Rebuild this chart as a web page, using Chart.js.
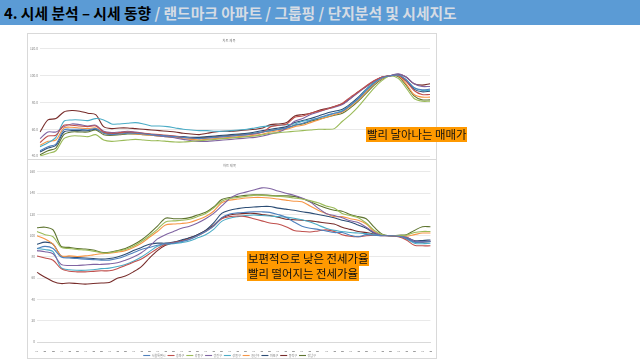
<!DOCTYPE html>
<html><head><meta charset="utf-8">
<script src="https://cdn.jsdelivr.net/npm/chart.js@4.4.1/dist/chart.umd.min.js"></script>
<style>
html,body{margin:0;padding:0;background:#fff;width:640px;height:360px;overflow:hidden;font-family:"Noto Sans CJK KR","Noto Sans",sans-serif;}
#bar{position:absolute;left:0;top:0;width:640px;height:25px;background:#5b9bd5;}
#head{position:absolute;left:4px;top:0px;font-size:15px;font-weight:bold;white-space:nowrap;line-height:26px;transform:scaleX(0.985);transform-origin:left center;}
.dark{color:#000}.light{color:#d6dce4}
.box{position:absolute;border:1px solid #d9d9d9;background:#fff;}
.note{position:absolute;background:#ff9900;color:#111;font-size:11.4px;line-height:15px;white-space:nowrap;padding:0 1px;}
canvas{display:block}
</style></head>
<body>
<div id="bar"></div>
<div id="head"><span class="dark">4. 시세 분석 – 시세 동향</span><span class="light"> / 랜드마크 아파트 / 그룹핑 / 단지분석 및 시세지도</span></div>
<div class="box" style="left:27px;top:33px;width:408px;height:126px"><canvas id="c1" width="408" height="126" style="width:408px;height:126px"></canvas></div>
<div class="box" style="left:27px;top:159px;width:408px;height:198px"><canvas id="c2" width="408" height="198" style="width:408px;height:198px"></canvas></div>
<div class="note" style="left:366px;top:127px">빨리 달아나는 매매가</div>
<div class="note" style="left:247px;top:251px">보편적으로 낮은 전세가율</div>
<div class="note" style="left:247px;top:266px">빨리 떨어지는 전세가율</div>
<script>
// categories (x axis)
const dates = ["07.01","07.05","07.09","08.01","08.05","08.09","09.01","09.05","09.09","10.01",
"10.05","10.09","11.01","11.05","11.09","12.01","12.05","12.09","13.01","13.05",
"13.09","14.01","14.05","14.09","15.01","15.05","15.09","16.01","16.05","16.09",
"17.01","17.05","17.09","18.01","18.05","18.09","19.01","19.05","19.09","20.01",
"20.05","20.09","21.01","21.05","21.09","22.01","22.05","22.09","23.01","23.05"];
const districts = ["서울특별시","송파구","강동구","광진구","성동구","용산구","마포구","동작구","강남구"];
const saleTicks = [40,60,80,100,120];
const jeonseTicks = [0,20,40,60,80,100,120,140,160];

// 매매가 지수 (top chart)
const sale_seoul = [44,47,49,59.5,60,60,59.5,60.5,57,56,56.5,57,57,56.5,56,55.5,55,54.5,54,53.5,53,53.5,54,54.5,55,55.5,56,57,58,59,60,61,63,64.5,66.5,68.5,70.5,72,73.5,78,83,89,94.5,98.5,100,100.5,97,91,89.5,90];
const sale_songpa = [50,55,55.5,63,63,62.5,62,62.5,58,57,57.5,58,57.5,57,56.5,56,55.5,55,54,53.5,53,53.5,54,54.5,55,55.5,56,56.5,58,62,63,64,69,70,72,73.5,75,77,79.5,84,88,92.5,96.5,99,100,100.5,96,89,86,86];
const sale_gangdong = [40,42,44,53,55,55,54.5,56,52,51,51.5,52,52.5,52,51.5,51.5,51,50.5,50.5,51,51.5,52,52.5,53,53.5,54,54.5,55,56,57,57.5,58,58.5,59,59.5,60,60,60.5,66,71,77,84,91,96.5,100,98,91,83,81,81];
const sale_gwangjin = [53,58,58,62,64,63.5,62.5,63,58.5,57.5,58,58.5,58,57,56,55,54.5,53.5,52.5,51.5,51,51,51.5,52,52.5,53,53.5,54,55,56.5,58,61,66,68,71,73,75,76.5,78.5,83,87.5,92,96,99,100,101.5,99,94,92,92];
const sale_seongdong = [47,50,54,66,67,67,66.5,68,67,64,64,64.5,65,64,62.5,62.5,62,61,60,59.5,59,59,58.5,58.5,59,59.5,60,61,62,62.5,63,63.5,64,66,67,68.5,70,72,74,78,83,90,95,98.5,100,100.5,97,91,89,89];
const sale_yongsan = [48,51,52,61,61.5,61,60.5,61,57,56,56.5,57,56.5,56,55.5,55,54.5,54,53,52.5,52,52.5,53,53.5,54,54.5,55,55.5,56.5,58,59,60,62,63,65,67,69,71,73,77,82,88,94,98,100,100,94,86,84,84];
const sale_mapo = [43,46,48,58,59,59,59,60,57.5,56.5,57,57.5,57,56.5,56,55.5,55,54.5,54.5,54,54,54.5,55,55.5,56,56.5,57,58,59,60,61,62,65,66.5,68,70,72,73.5,75,79,84,90,95,98.5,100,100,96,90,88,88.5];
const sale_dongjak = [58,67,68,73,74,73.5,72,71,62,60.5,61,61,60.5,60,59.5,59,58.5,58,57,56.5,56,57,58,58.5,58.5,59,59.5,60,61,63.5,64,65,70,71,72,74,75.5,77,79,83,88,92,96,99,100,101,99,94,93,94];
const sale_gangnam = [41,44,46,56,58,58,58,59.5,56,55.5,56,56.5,56.5,56,55.5,55,54.5,54,54,53.5,53.5,54,54.5,55,55.5,56,56.5,57,58,59,60,61,63,64,66,67.5,69,70.5,72,76,81,87,93,97.5,100,99.5,93,85,82,82];

// 전세가 지수 (bottom chart)
const jeonse_seoul = [88,90,88,80,79,78.5,78,77.5,77,77,78.5,81,84,87,89,91,92.5,93,94.5,96.5,100,104,109,117,120.5,121.5,122,122.5,122.5,122,120,117.5,113,109,107,106,104.5,103,103,100.5,99,101,100.5,100,100,99.5,97.5,94,94,94.5];
const jeonse_songpa = [81,79,77,69,66.5,66,66,66.5,67,67,69,72,75,78,83,88,92,93.5,95,97,100,104,109,116,118,118.5,118,116,114,112,111,108.5,105,104,103.5,104.5,105.5,104,101,99.5,99,100,100.5,100,100,99,96,91,90.5,90.5];
const jeonse_gangdong = [104,101,99,89,88,87,86.5,85.5,84,84,85.5,87,90,94.5,100,106,113,114,114.5,115.5,118,121,126,132.5,135,136,137,138,138,137.5,137,136.5,135.5,134.5,133,131,128,126,121,119,117,112,105,101,100,100,100.5,103,104,104];
const jeonse_gwangjin = [86,85,83,73,72,72,72.5,73,73,73.5,74.5,77,80,84,90,97,101,104,107,109,112,116,121,128,135,139,141,143,145,144.5,142,140,138,135.5,132,126,121,119,117,114,112.5,108,103,100.5,100,100,98.5,95,94.5,95];
const jeonse_seongdong = [88,87,85,70,68,67.5,67.5,68,69,69.5,71,73,76,80,85,90,92,92.5,93.5,95,98,101,106,113.5,116.5,118,119,119.5,119,118.5,118,117.5,116.5,115,113,110,107,105,104,103,102.5,102,101,100.5,100,99.5,97,93,92.5,93];
const jeonse_yongsan = [100,97,92,81,81,80.5,81,82,83,83.5,84.5,86,89,93,98.5,104,110,111,111.5,112.5,115,118,123,131,133.5,134.5,135.5,136,136,135.5,134.5,133.5,132.5,132,128,124,121,118,118,116,114.5,111,104,100.5,100,100,99.5,101,102.5,102.5];
const jeonse_mapo = [92,94,92,81,80,79.5,79,78.5,78,78.5,80,82.5,86,89,92,93,93,94,96,98,101,105,112,121,124,125.5,126.5,127,127.5,127.5,126,125,124,122.5,121.5,120,118.5,117,114.5,113,110,107,102.5,100.5,100,100,98.5,95.5,95.5,96];
const jeonse_dongjak = [65.5,61,57,55,55.5,55,54.5,55,55.5,56,60,62,66,71,79,86,91,93.5,95.5,98,101,105,110,116.5,119.5,120.5,121,121,120,119,117.5,115.5,115,114.5,114,113,112,111,108,106,104,103,101.5,100.5,100,99.5,97.5,94.5,94,94.5];
const jeonse_gangnam = [107.5,108,105.5,90,89,88,87.5,86.5,84.5,84.5,86,88,91.5,96,102,109,116.5,116,116,117,119.5,122,127,134,136,137,138,138.5,138.5,138,137.5,137.5,137,135,132,129,126,124,123,120,118,116,108,101.5,100,100.5,101,105,108.5,108.5];

const saleSeries = [sale_seoul,sale_songpa,sale_gangdong,sale_gwangjin,sale_seongdong,sale_yongsan,sale_mapo,sale_dongjak,sale_gangnam];
const jeonseSeries = [jeonse_seoul,jeonse_songpa,jeonse_gangdong,jeonse_gwangjin,jeonse_seongdong,jeonse_yongsan,jeonse_mapo,jeonse_dongjak,jeonse_gangnam];
const lineColors = ["#4f81bd","#c0504d","#9bbb59","#8064a2","#4bacc6","#f79646","#2c4d75","#772c2a","#5f7530"];

Chart.defaults.font.family = '"Noto Sans CJK KR","Noto Sans",sans-serif';
const mk = (arr) => arr.map((d,i)=>({label:districts[i],data:d,borderColor:lineColors[i],backgroundColor:lineColors[i],borderWidth:1.1,pointRadius:0,tension:0.3,fill:false}));
const gridStyle = {color:'#e3e3e3',lineWidth:0.8,drawTicks:false};

new Chart(document.getElementById('c1'),{
  type:'line',
  data:{labels:dates,datasets:mk(saleSeries)},
  options:{
    responsive:false,animation:false,devicePixelRatio:1,
    layout:{padding:{left:0,right:6,top:0,bottom:3}},
    plugins:{legend:{display:false},tooltip:{enabled:false},
      title:{display:true,text:'차트 제목',color:'#7f7f7f',font:{size:3.3,weight:'normal'},padding:{top:5,bottom:6}}},
    scales:{
      x:{display:false},
      y:{min:40,max:120,afterBuildTicks:s=>{s.ticks=saleTicks.map(v=>({value:v}));},
         ticks:{font:{size:3.2},color:'#7f7f7f',padding:2,callback:v=>Number(v).toFixed(1)},
         grid:gridStyle,border:{display:false},afterFit:s=>{s.width=12;}}
    }
  }
});

new Chart(document.getElementById('c2'),{
  type:'line',
  data:{labels:dates,datasets:mk(jeonseSeries)},
  options:{
    responsive:false,animation:false,devicePixelRatio:1,
    layout:{padding:{left:0,right:5,top:0,bottom:0}},
    plugins:{tooltip:{enabled:false},
      title:{display:true,text:'차트 제목',color:'#7f7f7f',font:{size:3.3,weight:'normal'},padding:{top:4,bottom:4}},
      legend:{display:true,position:'bottom',maxHeight:6,
        labels:{usePointStyle:true,pointStyle:'line',pointStyleWidth:7,boxHeight:3,font:{size:3},color:'#7f7f7f',padding:2}}},
    scales:{
      x:{ticks:{autoSkip:false,maxRotation:90,minRotation:90,font:{size:3.8},color:'#6f6f6f',padding:1},
         grid:{display:false},border:{display:true,color:'#d9d9d9'},afterFit:s=>{s.height=10;}},
      y:{min:0,max:160,afterBuildTicks:s=>{s.ticks=jeonseTicks.map(v=>({value:v}));},
         ticks:{font:{size:3.2},color:'#7f7f7f',padding:2},
         grid:gridStyle,border:{display:false},afterFit:s=>{s.width=9;}}
    }
  }
});
</script>
</body></html>
